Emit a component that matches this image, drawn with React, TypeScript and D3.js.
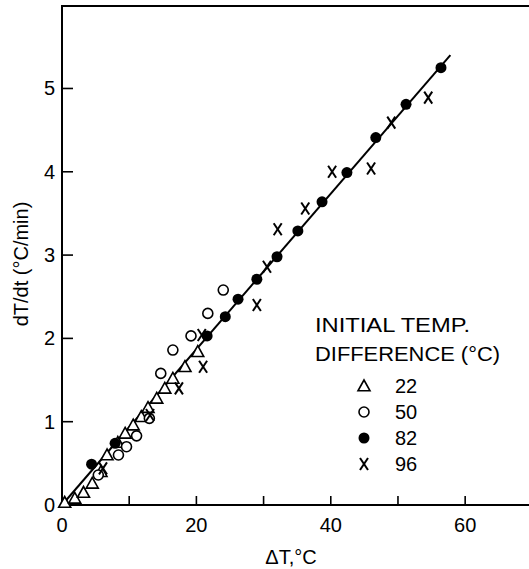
import React from 'react';
import * as d3 from 'd3';

// Initial temperature difference 22 °C (triangles)
const tri22 = [
  [0.4, 0.03], [1.9, 0.08], [3.2, 0.15], [4.5, 0.26], [5.8, 0.4], [6.7, 0.6],
  [8.3, 0.75], [9.4, 0.86], [10.6, 0.96], [11.8, 1.06], [12.8, 1.17],
  [14.1, 1.28], [15.3, 1.4], [16.5, 1.52], [18.3, 1.66], [20.2, 1.84],
];
// 50 °C (open circles)
const open50 = [
  [5.4, 0.36], [8.4, 0.6], [9.6, 0.7], [11.1, 0.83], [13.0, 1.04],
  [14.7, 1.58], [16.5, 1.86], [19.2, 2.03], [21.7, 2.3], [24.0, 2.58],
];
// 82 °C (filled circles)
const filled82 = [
  [4.4, 0.49], [7.9, 0.74], [21.6, 2.03], [24.3, 2.26], [26.2, 2.47],
  [29.0, 2.71], [32.0, 2.98], [35.1, 3.29], [38.7, 3.64], [42.4, 3.99],
  [46.7, 4.41], [51.2, 4.81], [56.4, 5.25],
];
// 96 °C (crosses)
const cross96 = [
  [6.1, 0.44], [13.1, 1.08], [17.4, 1.4], [20.8, 2.04], [21.0, 1.66],
  [29.0, 2.4], [30.5, 2.86], [32.1, 3.31], [36.2, 3.56], [40.2, 4.0],
  [46.0, 4.04], [49.0, 4.59], [54.5, 4.89],
];
const fitLine = [[0, 0], [57.8, 5.4]];

const xTicks = [10, 20, 30, 40, 50, 60];
const xLabels = [0, 20, 40, 60];
const yTicks = [1, 2, 3, 4, 5];
const yLabels = [0, 1, 2, 3, 4, 5];
const legendItems = ['22', '50', '82', '96'];

const W = 529;
const H = 569;
const FONT = '"Liberation Sans", Arial, sans-serif';

const x = d3.scaleLinear().domain([0, 69.5]).range([62, 529]);
const y = d3.scaleLinear().domain([0, 5.99]).range([505, 6]);

function Marker({ kind, cx, cy }: { kind: string; cx: number; cy: number }) {
  if (kind === '22') {
    const s = 6;
    const pts = `${cx},${cy - s} ${cx - s},${cy + s * 0.8} ${cx + s},${cy + s * 0.8}`;
    return <polygon points={pts} fill="white" stroke="black" strokeWidth={1.6} />;
  }
  if (kind === '50') {
    return <circle cx={cx} cy={cy} r={5} fill="white" stroke="black" strokeWidth={1.6} />;
  }
  if (kind === '82') {
    return <circle cx={cx} cy={cy} r={5.5} fill="black" />;
  }
  const dx = 4;
  const dy = 6;
  return (
    <g stroke="black" strokeWidth={2}>
      <line x1={cx - dx} y1={cy - dy} x2={cx + dx} y2={cy + dy} />
      <line x1={cx + dx} y1={cy - dy} x2={cx - dx} y2={cy + dy} />
    </g>
  );
}

export default function App() {
  const line = d3.line<number[]>().x(d => x(d[0])).y(d => y(d[1]));
  const series: [string, number[][]][] = [
    ['22', tri22],
    ['50', open50],
    ['82', filled82],
    ['96', cross96],
  ];

  return (
    <svg width={W} height={H} style={{ position: 'absolute', left: 0, top: 0, background: 'white' }}>
      <rect width={W} height={H} fill="white" />
      {/* frame */}
      <line x1={x(0)} y1={y(0)} x2={W} y2={y(0)} stroke="black" strokeWidth={2} />
      <line x1={x(0)} y1={y(0)} x2={x(0)} y2={6} stroke="black" strokeWidth={2} />
      <line x1={x(0) - 1} y1={6} x2={W} y2={6} stroke="black" strokeWidth={2} />

      {xTicks.map(t => (
        <line key={t} x1={x(t)} x2={x(t)} y1={y(0)} y2={y(0) - 9} stroke="black" strokeWidth={1.6} />
      ))}
      {yTicks.map(t => (
        <line key={t} x1={x(0)} x2={x(0) + 11} y1={y(t)} y2={y(t)} stroke="black" strokeWidth={1.6} />
      ))}

      <g fontFamily={FONT} fontSize={20} fill="black">
        {xLabels.map(t => (
          <text key={t} x={x(t)} y={532} textAnchor="middle">{t}</text>
        ))}
        {yLabels.map(t => (
          <text key={t} x={55} y={y(t) + 7} textAnchor="end">{t}</text>
        ))}
        <text x={291} y={564} textAnchor="middle">ΔT,°C</text>
        <text transform="translate(28,264) rotate(-90)" textAnchor="middle">dT/dt (°C/min)</text>
      </g>

      <path d={line(fitLine) || ''} fill="none" stroke="black" strokeWidth={2} />

      {series.map(([k, data]) => (
        <g key={k}>
          {data.map((d, i) => (
            <Marker key={i} kind={k} cx={x(d[0])} cy={y(d[1])} />
          ))}
        </g>
      ))}

      {/* legend */}
      <g fontFamily={FONT} fill="black">
        <text x={315} y={332} fontSize={20} textLength={155} lengthAdjust="spacingAndGlyphs">INITIAL  TEMP.</text>
        <text x={315} y={361} fontSize={20} textLength={185} lengthAdjust="spacingAndGlyphs">DIFFERENCE (°C)</text>
        {legendItems.map((k, i) => (
          <g key={k}>
            <Marker kind={k} cx={364} cy={386 + i * 26} />
            <text x={395} y={393 + i * 26} fontSize={20}>{k}</text>
          </g>
        ))}
      </g>
    </svg>
  );
}
